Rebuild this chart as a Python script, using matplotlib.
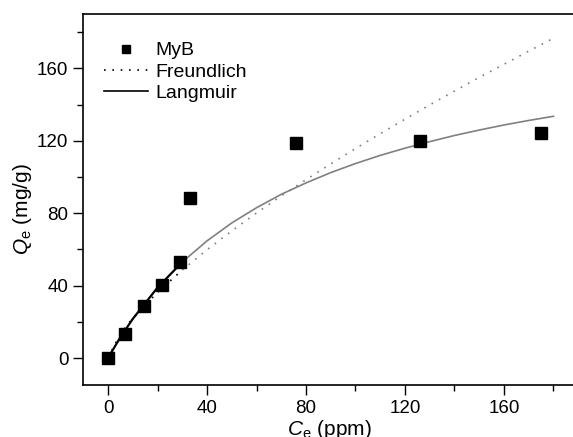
import matplotlib
matplotlib.use("Agg")
import matplotlib.pyplot as plt
from matplotlib.ticker import MultipleLocator

plt.rcParams["font.family"] = ["Liberation Sans", "DejaVu Sans"]
plt.rcParams["mathtext.fontset"] = "custom"
plt.rcParams["mathtext.rm"] = "Liberation Sans"
plt.rcParams["mathtext.it"] = "Liberation Sans:italic"

# measured equilibrium data
ce_data = [0, 7, 14.5, 22, 29, 33, 76, 126, 175]
qe_data = [0, 13, 28.5, 40.5, 53, 88.5, 118.5, 120, 124]

# isotherm fit curves
ce_fit = [0, 5, 10, 20, 30, 40, 50, 60, 70, 80, 90, 100, 110, 120, 130, 140, 150, 160, 170, 180]
q_freundlich = [0, 13.4, 22.0, 36.3, 48.6, 59.8, 70.2, 80.1, 89.5, 98.5, 107.2, 115.7,
                123.9, 131.9, 139.8, 147.4, 155.0, 162.2, 169.5, 176.6]
q_langmuir = [0, 11.5, 21.6, 38.9, 53.0, 64.7, 74.6, 83.0, 90.4, 96.7, 102.4, 107.4,
              111.9, 115.9, 119.5, 122.9, 125.9, 128.7, 131.2, 133.5]

C_SPLIT = 30  # fit drawn dark inside the low-concentration range

fig = plt.figure(figsize=(5.73, 4.37), dpi=100)
ax = fig.add_axes([0.1449, 0.119, 0.8586, 0.849])


def split(xs, ys):
    lo = [(x, y) for x, y in zip(xs, ys) if x <= C_SPLIT]
    hi = [(x, y) for x, y in zip(xs, ys) if x >= C_SPLIT]
    return list(zip(*lo)), list(zip(*hi))


(fx0, fy0), (fx1, fy1) = split(ce_fit, q_freundlich)
(lx0, ly0), (lx1, ly1) = split(ce_fit, q_langmuir)

ax.plot(fx1, fy1, ls=(0, (1, 4)), color="#808080", lw=1.2)
ax.plot(lx1, ly1, ls="-", color="#808080", lw=1.2)
ax.plot(fx0, fy0, ls=(0, (1, 4)), color="black", lw=1.2)
ax.plot(lx0, ly0, ls="-", color="black", lw=1.6)
ax.plot(ce_data, qe_data, ls="", marker="s", ms=8.5, color="black", zorder=5)

# legend proxies
h_data, = ax.plot([], [], ls="", marker="s", ms=6, color="black", label="MyB")
h_fr, = ax.plot([], [], ls=(0, (1, 4)), color="black", lw=1.2, label="Freundlich")
h_la, = ax.plot([], [], ls="-", color="black", lw=1.2, label="Langmuir")
ax.legend(handles=[h_data, h_fr, h_la], loc="upper left", bbox_to_anchor=(0.0427, 0.925),
          frameon=False, fontsize=14, handlelength=2.27, handletextpad=0.36,
          labelspacing=0.18, borderpad=0, borderaxespad=0)

ax.set_xlim(-10.1, 188.7)
ax.set_ylim(-14.9, 190)
ax.xaxis.set_major_locator(MultipleLocator(40))
ax.xaxis.set_minor_locator(MultipleLocator(20))
ax.yaxis.set_major_locator(MultipleLocator(40))
ax.yaxis.set_minor_locator(MultipleLocator(20))
ax.tick_params(which="both", direction="out", width=1.0, labelsize=13.5)
ax.tick_params(which="major", length=7)
ax.tick_params(which="minor", length=4)
for s in ax.spines.values():
    s.set_linewidth(1.2)

ax.set_xlabel(r"$C_{\rm e}$ (ppm)", fontsize=15, labelpad=1)
ax.set_ylabel(r"$Q_{\rm e}$ (mg/g)", fontsize=15)
ax.yaxis.set_label_coords(-0.10, 0.474)

fig.savefig("out.png", dpi=100)
